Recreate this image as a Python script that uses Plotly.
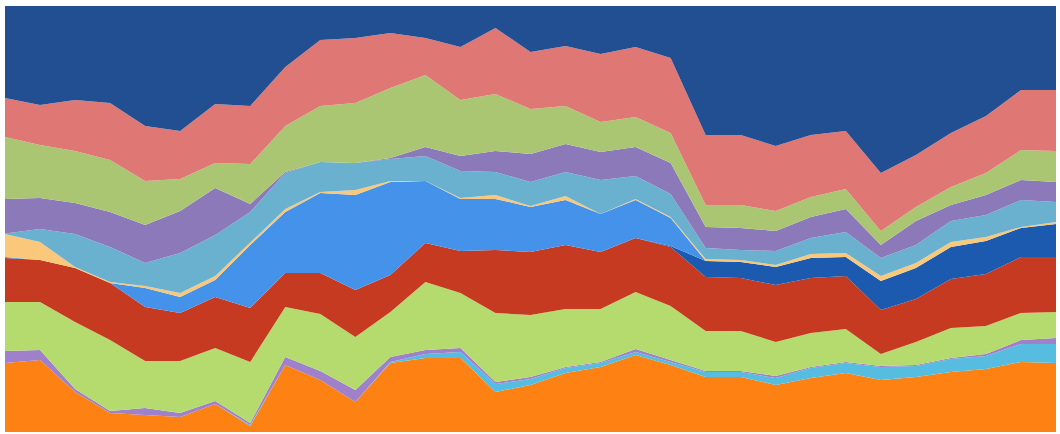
import plotly.graph_objects as go

periods = list(range(31))

orange      = [69, 72, 40, 19, 17, 15, 28, 6, 67, 52, 30, 69, 74, 74, 40, 47, 59, 65, 77, 67, 55, 55, 47, 54, 59, 52, 55, 60, 63, 70, 69]
cyan        = [0, 0, 0, 0, 0, 0, 0, 1, 0, 0, 0, 1, 4, 6, 8, 6, 5, 4, 3, 3, 5, 5, 7, 10, 10, 13, 11, 13, 13, 18, 19]
violet      = [12, 10, 3, 2, 7, 4, 3, 2, 8, 9, 12, 5, 4, 4, 2, 2, 1, 1, 3, 2, 1, 1, 2, 1, 1, 1, 1, 1, 2, 4, 6]
lime        = [49, 48, 67, 71, 47, 52, 53, 61, 50, 57, 53, 45, 68, 55, 69, 62, 58, 53, 57, 54, 40, 40, 34, 34, 33, 12, 23, 30, 28, 27, 26]
red         = [44, 42, 54, 57, 54, 48, 51, 54, 34, 41, 47, 37, 39, 42, 63, 63, 64, 57, 54, 59, 54, 53, 57, 55, 53, 44, 43, 49, 52, 56, 55]
darkblue    = [0, 0, 0, 0, 0, 0, 0, 0, 0, 0, 0, 0, 0, 0, 0, 0, 0, 0, 0, 1, 16, 16, 18, 20, 19, 29, 31, 32, 33, 29, 33]
blue        = [1, 0, 0, 0, 19, 16, 17, 63, 61, 80, 95, 93, 62, 52, 51, 45, 45, 38, 38, 28, 0, 0, 0, 0, 0, 0, 0, 0, 0, 0, 0]
lightorange = [23, 18, 1, 1, 2, 4, 4, 2, 3, 1, 5, 1, 0, 1, 4, 1, 4, 0, 1, 1, 2, 2, 2, 4, 4, 5, 5, 5, 4, 1, 2]
teal        = [0.5, 13, 33, 35, 23, 40, 41, 31, 36, 30, 27, 22, 25, 27, 23, 24, 24, 34, 23, 23, 11, 10, 14, 16, 21, 18, 18, 21, 22, 27, 20]
purple      = [34.5, 31, 31, 35, 38, 42, 47, 8, 1, 0, 0, 1, 9, 15, 21, 28, 28, 28, 29, 31, 21, 22, 20, 21, 23, 13, 24, 16, 20, 20, 20]
green       = [62, 53, 52, 52, 44, 32, 25, 40, 46, 56, 60, 70, 72, 56, 57, 45, 38, 30, 30, 30, 22, 23, 20, 20, 20, 14, 14, 18, 22, 30, 31]
salmon      = [39, 40, 51, 57, 55, 48, 59, 58, 59, 66, 65, 55, 37, 53, 66, 57, 60, 68, 70, 75, 70, 70, 65, 62, 58, 58, 52, 54, 57, 60, 61]
navy        = [92, 99, 94, 97, 120, 125, 98, 100, 61, 34, 32, 27, 32, 41, 22, 46, 40, 48, 41, 52, 129, 129, 140, 129, 125, 167, 149, 127, 110, 84, 84]

series = [
    ("orange", orange, "#FD8213"),
    ("cyan", cyan, "#56BDE0"),
    ("violet", violet, "#9E80CB"),
    ("lime", lime, "#B5DB6E"),
    ("red", red, "#C53A21"),
    ("darkblue", darkblue, "#1B5AAF"),
    ("blue", blue, "#4592EB"),
    ("lightorange", lightorange, "#FAC87B"),
    ("teal", teal, "#6AB1D0"),
    ("purple", purple, "#8C79BA"),
    ("green", green, "#AAC672"),
    ("salmon", salmon, "#DF7774"),
    ("navy", navy, "#224F91"),
]

fig = go.Figure()
for name, vals, col in series:
    fig.add_trace(go.Scatter(
        x=periods, y=vals, name=name, mode="lines",
        stackgroup="one", groupnorm="percent",
        line=dict(width=0, color=col), fillcolor=col,
        hoverinfo="skip",
    ))

fig.update_layout(
    width=1060, height=434,
    margin=dict(l=5, r=4, t=6, b=2),
    paper_bgcolor="white", plot_bgcolor="white",
    showlegend=False,
    xaxis=dict(range=[0, 30], visible=False, fixedrange=True),
    yaxis=dict(range=[0, 100], visible=False, fixedrange=True),
)

fig.write_html(
    "out.html",
    config={"displayModeBar": False},
    post_script="document.body.style.margin='0';document.body.style.overflow='hidden';",
)
